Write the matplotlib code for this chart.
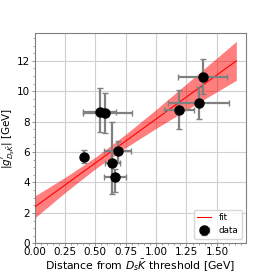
import numpy as np
import matplotlib
matplotlib.use("Agg")
import matplotlib.pyplot as plt
from matplotlib.ticker import AutoMinorLocator

# data points (distance from threshold, |g|) with errors
dist = [0.41, 0.535, 0.58, 0.683, 0.64, 0.665, 1.383, 1.352, 1.19]
coup = [5.70, 8.63, 8.57, 6.05, 5.26, 4.37, 10.97, 9.22, 8.79]
xerr_lo = [0.03, 0.135, 0.18, 0.11, 0.06, 0.09, 0.20, 0.25, 0.125]
xerr_hi = [0.03, 0.135, 0.22, 0.11, 0.06, 0.09, 0.20, 0.25, 0.125]
yerr_lo = [0.42, 1.30, 1.30, 0.70, 2.00, 1.00, 1.12, 1.05, 1.30]
yerr_hi = [0.42, 1.57, 1.30, 0.70, 2.70, 0.50, 1.12, 1.05, 1.30]

# fit line and its band
fit_x = [0.0, 1.66]
fit_y = [2.38, 12.0]
band_x = [0.0, 0.25, 0.5, 0.75, 1.0, 1.25, 1.5, 1.66]
band_lo = [1.66, 3.33, 4.90, 6.29, 7.56, 8.77, 9.97, 10.72]
band_hi = [3.10, 4.33, 5.66, 7.17, 8.80, 10.49, 12.19, 13.28]

fig = plt.figure(figsize=(2.74, 2.74), dpi=100)
ax = fig.add_axes([0.126, 0.112, 0.772, 0.768])

ax.fill_between(band_x, band_lo, band_hi, color="red", alpha=0.5, lw=0, zorder=2)
ax.plot(fit_x, fit_y, color="red", lw=0.8, label="fit", zorder=3)
ax.errorbar(dist, coup, xerr=[xerr_lo, xerr_hi], yerr=[yerr_lo, yerr_hi],
            fmt="o", color="black", ms=6.5, ecolor="grey", elinewidth=1.6,
            capsize=2.5, capthick=1.0, label="data", zorder=4)

ax.set_xlim(0, 1.74)
ax.set_ylim(0, 13.84)
ax.set_xticks([0, 0.25, 0.5, 0.75, 1.0, 1.25, 1.5])
ax.set_yticks([0, 2, 4, 6, 8, 10, 12])
ax.xaxis.set_minor_locator(AutoMinorLocator(5))
ax.yaxis.set_minor_locator(AutoMinorLocator(4))
ax.grid(True, color="#d0d0d0", lw=0.8, zorder=0)
ax.set_axisbelow(True)
for s in ax.spines.values():
    s.set_color("grey")
ax.tick_params(labelsize=7.5, length=2, width=0.6, color="grey", pad=1)
ax.tick_params(which="minor", length=1.3, width=0.5, color="grey")

ax.set_xlabel(r"Distance from $D_s\bar{K}$ threshold [GeV]", fontsize=7.8, labelpad=0)
ax.set_ylabel(r"$|g^{r}_{D_s\bar{K}}|$ [GeV]", fontsize=7.5, labelpad=0)
ax.legend(loc="lower right", fontsize=6.3, handlelength=1.6, borderpad=0.4,
          labelspacing=0.5)

fig.savefig("out.png", dpi=100)
